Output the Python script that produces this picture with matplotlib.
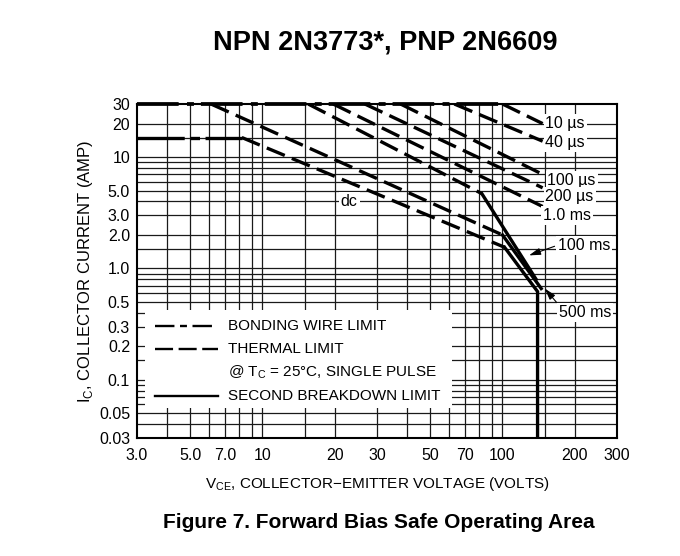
import numpy as np
import matplotlib
matplotlib.use("Agg")
import matplotlib.pyplot as plt
from matplotlib.ticker import FixedLocator, NullLocator
from matplotlib.lines import Line2D
from matplotlib.patches import Rectangle

plt.rcParams['font.family'] = ['Liberation Sans', 'DejaVu Sans']
plt.rcParams['lines.scale_dashes'] = False

# Axis ticks and grid
vce_ticks = [3, 5, 7, 10, 20, 30, 50, 70, 100, 200, 300]
vce_labels = ["3.0", "5.0", "7.0", "10", "20", "30", "50", "70", "100", "200", "300"]
ic_ticks = [0.03, 0.05, 0.1, 0.2, 0.3, 0.5, 1, 2, 3, 5, 10, 20, 30]
ic_labels = ["0.03", "0.05", "0.1", "0.2", "0.3", "0.5", "1.0", "2.0", "3.0", "5.0", "10", "20", "30"]
vce_grid = [4, 5, 6, 7, 8, 9, 10, 15, 20, 30, 40, 50, 60, 70, 80, 90, 100, 150, 200]
ic_grid = [0.04, 0.05, 0.06, 0.07, 0.08, 0.09, 0.1, 0.15, 0.2, 0.3, 0.4, 0.5, 0.6,
           0.7, 0.8, 0.9, 1, 1.5, 2, 3, 4, 5, 6, 7, 8, 9, 10, 15, 20]

# Bonding wire limits
bond_pulse_v = [3, 100]
bond_pulse_i = [30, 30]
bond_dc_v = [3, 8.2]
bond_dc_i = [15, 15]

# Thermal limits (dashed)
t10us_v, t10us_i = [100, 147], [30, 20]
t40us_v, t40us_i = [63, 147], [30, 13.9]
t100us_v, t100us_i = [37.6, 147], [30, 7.0]
t200us_v, t200us_i = [26.7, 147], [30, 5.3]
t1ms_v, t1ms_i = [19.7, 147], [30, 3.6]
t100ms_v, t100ms_i = [15.5, 82], [30, 4.7]
t500ms_v, t500ms_i = [6.1, 100], [30, 2.0]
tdc_v, tdc_i = [8.2, 102], [15, 1.55]

# Second breakdown limits (solid)
sb100ms_v, sb100ms_i = [82, 138], [4.7, 0.8]
sb500ms_v, sb500ms_i = [100, 145], [2.0, 0.66]
sbdc_v, sbdc_i = [102, 140, 140], [1.55, 0.62, 0.03]

fig = plt.figure(figsize=(6.8, 5.56), dpi=100)
ax = fig.add_axes([137 / 680, 118 / 556, 480 / 680, 334 / 556])
ax.set_xscale('log')
ax.set_yscale('log')
ax.set_xlim(3, 300)
ax.set_ylim(0.03, 30)

ax.xaxis.set_major_locator(FixedLocator(vce_ticks))
ax.xaxis.set_minor_locator(NullLocator())
ax.set_xticklabels(vce_labels)
ax.yaxis.set_major_locator(FixedLocator(ic_ticks))
ax.yaxis.set_minor_locator(NullLocator())
ax.set_yticklabels(ic_labels)
ax.tick_params(axis='x', length=0, pad=7, labelsize=11.5)
ax.tick_params(axis='y', length=0, pad=5, labelsize=11.5)
for s in ax.spines.values():
    s.set_linewidth(1.5)
    s.set_zorder(6)

for v in vce_grid:
    ax.axvline(v, color='#1a1a1a', lw=0.9, zorder=1)
for i in ic_grid:
    ax.axhline(i, color='#1a1a1a', lw=0.9, zorder=1)

lw = 2.4
bond_dash = (0, (30, 6, 5, 5))
therm_dash = (0, (14, 5.5))

ax.plot(bond_pulse_v, bond_pulse_i, color='k', lw=lw + 0.3, ls=bond_dash, clip_on=False, zorder=4)
ax.plot(bond_dc_v, bond_dc_i, color='k', lw=lw, ls=(0, (34, 4, 7, 4)), zorder=4)

for v, i in [(t10us_v, t10us_i), (t40us_v, t40us_i), (t100us_v, t100us_i),
             (t200us_v, t200us_i), (t1ms_v, t1ms_i), (t100ms_v, t100ms_i),
             (t500ms_v, t500ms_i), (tdc_v, tdc_i)]:
    ax.plot(v, i, color='k', lw=lw, ls=therm_dash, zorder=4)

for v, i in [(sb100ms_v, sb100ms_i), (sb500ms_v, sb500ms_i), (sbdc_v, sbdc_i)]:
    ax.plot(v, i, color='k', lw=lw, solid_joinstyle='miter', zorder=4)

lbl_box = dict(boxstyle='square,pad=0.12', fc='white', ec='none')
fs = 11.5
ax.text(151, 20, "10 µs", fontsize=fs, ha='left', va='center', bbox=lbl_box, zorder=5)
ax.text(151, 13.5, "40 µs", fontsize=fs, ha='left', va='center', bbox=lbl_box, zorder=5)
ax.text(154, 6.2, "100 µs", fontsize=fs, ha='left', va='center', bbox=lbl_box, zorder=5)
ax.text(151, 4.4, "200 µs", fontsize=fs, ha='left', va='center', bbox=lbl_box, zorder=5)
ax.text(148, 3.0, "1.0 ms", fontsize=fs, ha='left', va='center', bbox=lbl_box, zorder=5)
ax.text(23, 4.0, "dc", fontsize=fs, ha='center', va='center', bbox=lbl_box, zorder=5)

arrow = dict(arrowstyle='-|>,head_length=0.6,head_width=0.18', color='k', lw=0.8,
             shrinkA=1, shrinkB=0)
ax.annotate("100 ms", xy=(129, 1.31), xytext=(170, 1.62), fontsize=fs, ha='left',
            va='center', bbox=lbl_box, arrowprops=dict(arrow, relpos=(0, 0.5)), zorder=5)
ax.annotate("500 ms", xy=(150, 0.66), xytext=(172, 0.4), fontsize=fs, ha='left',
            va='center', bbox=lbl_box, arrowprops=dict(arrow, relpos=(0, 1)), zorder=5)

# Legend box drawn by hand
ax.add_patch(Rectangle((0.0167, 0.09), 0.639, 0.293, transform=ax.transAxes,
                       fc='white', ec='none', zorder=3))
rows = [0.335, 0.266, 0.126]
leg_styles = [(0, (14, 4, 5, 4, 14)), (0, (13, 4)), '-']
for y, st in zip(rows, leg_styles):
    ax.add_line(Line2D([0.0375, 0.169], [y, y], transform=ax.transAxes, color='k',
                       lw=1.7, ls=st, zorder=4))
leg_texts = ["BONDING WIRE LIMIT", "THERMAL LIMIT",
             "@ T$_\\mathregular{C}$ = 25°C, SINGLE PULSE", "SECOND BREAKDOWN LIMIT"]
for y, t in zip([0.335, 0.266, 0.198, 0.126], leg_texts):
    ax.text(0.19, y, t, transform=ax.transAxes, fontsize=11, ha='left', va='center', zorder=4)

ax.set_ylabel("I$_\\mathregular{C}$, COLLECTOR CURRENT (AMP)", fontsize=12, labelpad=3)
ax.set_xlabel("V$_\\mathregular{CE}$, COLLECTOR−EMITTER VOLTAGE (VOLTS)", fontsize=11, labelpad=9)

fig.text(385 / 680, 1 - 42 / 556, "NPN 2N3773*, PNP 2N6609", fontsize=19.5,
         fontweight='bold', ha='center', va='center')
fig.text(379 / 680, 1 - 522 / 556, "Figure 7. Forward Bias Safe Operating Area", fontsize=15,
         fontweight='bold', ha='center', va='center')

fig.savefig("out.png", dpi=100)
